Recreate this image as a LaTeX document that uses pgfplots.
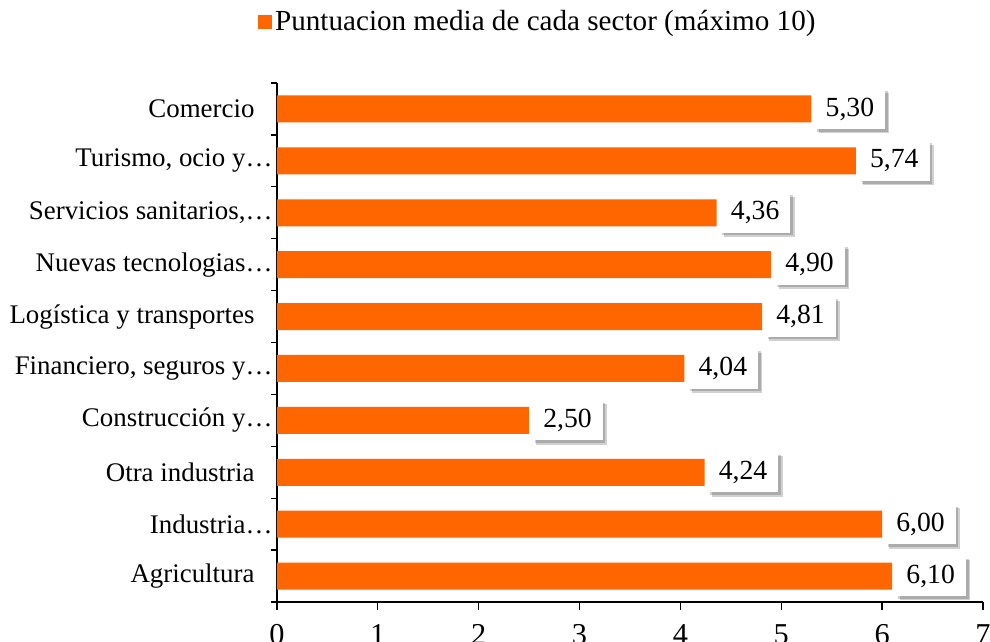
\documentclass[border=0pt]{standalone}
\usepackage{fontspec}
\setmainfont{Liberation Serif}
\usepackage{pgfplots}
\pgfplotsset{compat=1.18}
\usetikzlibrary{shadows}
\definecolor{barorange}{HTML}{FF6600}
\newcommand{\tsp}[1]{\mbox{#1\kern6.8pt}}

\begin{document}
\begin{tikzpicture}
\begin{axis}[
  at={(0,0)}, anchor=south west,
  scale only axis,
  width=9.413cm, height=6.92cm,
  xbar, bar width=0.52,
  xmin=0, xmax=7,
  ymin=-0.5, ymax=9.5,
  axis lines*=left,
  axis line style={black, line width=0.5pt},
  tick align=outside,
  xtick={0,...,7},
  ytick={0,...,9},
  yticklabels={\tsp{Agricultura}, Industria…, \tsp{Otra industria}, Construcción y…, {Financiero, seguros y…}, \tsp{Logística y transportes}, Nuevas tecnologias…, {Servicios sanitarios,…}, {Turismo, ocio y…}, \tsp{Comercio}},
  minor ytick={-0.5,0.5,...,9.5},
  major y tick style={draw=none},
  minor tick length=2.4pt,
  major tick length=3pt,
  tick style={black, line width=0.5pt},
  /pgf/number format/assume math mode=true,
  xticklabel style={font=\fontsize{11.5}{13}\selectfont, yshift=-2pt},
  yticklabel style={font=\fontsize{10.2}{12}\selectfont, xshift=4.8pt},
  point meta=x,
  nodes near coords={\pgfmathprintnumber[fixed, fixed zerofill, precision=2, use comma, assume math mode=true]{\pgfplotspointmeta}},
  every node near coord/.append style={
    font=\fontsize{10.5}{12}\selectfont, anchor=west, fill=white,
    inner xsep=4.2pt, minimum height=13.2pt, xshift=1pt,
    drop shadow={shadow xshift=1.6pt, shadow yshift=-1.6pt, opacity=0.18, fill=black},
    drop shadow={shadow xshift=1.0pt, shadow yshift=-1.0pt, opacity=0.18, fill=black}},
  legend style={at={(0.37,1.1175)}, anchor=center, draw=none, fill=none,
    font=\fontsize{11.05}{12}\selectfont, inner sep=0pt, nodes={inner xsep=1.2pt}},
  legend image code/.code={\fill[barorange] (0cm,-0.095cm) rectangle (0.19cm,0.095cm);},
]
\addplot[fill=barorange, draw=none] coordinates {
  (6.10,0) (6.00,1) (4.24,2) (2.50,3) (4.04,4)
  (4.81,5) (4.90,6) (4.36,7) (5.74,8) (5.30,9)
};
\addlegendentry{Puntuacion media de cada sector (máximo 10)}
\end{axis}
\pgfresetboundingbox
\path[use as bounding box] (-3.693cm,-0.52cm) rectangle (9.507cm,8.027cm);
\end{tikzpicture}
\end{document}
